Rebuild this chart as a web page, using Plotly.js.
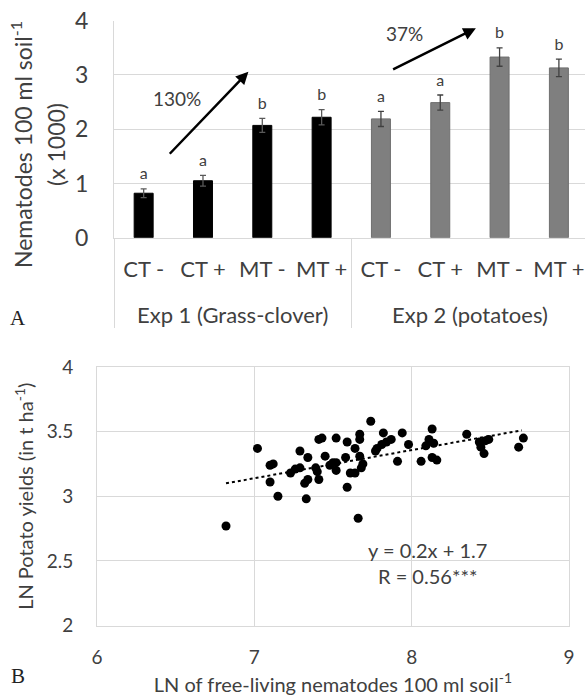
<!DOCTYPE html>
<html>
<head>
<meta charset="utf-8">
<script src="https://cdn.plot.ly/plotly-3.0.1.min.js"></script>
<style>html,body{margin:0;padding:0;background:#fff;}#chart{width:585px;height:699px;}</style>
</head>
<body>
<div id="chart"></div>
<script>
// ---------- Panel A data ----------
const treatments = ['CT -', 'CT +', 'MT -', 'MT +'];
const exp1Name = 'Exp 1 (Grass-clover)';
const exp2Name = 'Exp 2 (potatoes)';
const exp1Means = [0.82, 1.05, 2.07, 2.22];
const exp1Errors = [0.08, 0.10, 0.13, 0.14];
const exp1Letters = ['a', 'a', 'b', 'b'];
const exp2Means = [2.19, 2.49, 3.33, 3.13];
const exp2Errors = [0.14, 0.14, 0.17, 0.16];
const exp2Letters = ['a', 'a', 'b', 'b'];
const increaseLabels = ['130%', '37%'];

// ---------- Panel B data ----------
const lnNematodes = [6.82, 7.02, 7.10, 7.12, 7.10, 7.15, 7.29, 7.34, 7.23, 7.26,
  7.29, 7.32, 7.34, 7.33, 7.39, 7.40, 7.41, 7.41, 7.43, 7.45,
  7.48, 7.52, 7.52, 7.52, 7.59, 7.64, 7.67, 7.67, 7.74, 7.82,
  7.87, 7.84, 7.81, 7.78, 7.77, 7.94, 7.98, 7.91, 8.06, 8.09,
  8.11, 8.13, 8.13, 8.16, 7.58, 7.61, 7.64, 7.67, 7.69, 7.68,
  7.59, 7.66, 8.35, 8.43, 8.47, 8.49, 8.44, 8.46, 8.71, 8.68,
  8.14, 7.50];
const lnYield = [2.77, 3.37, 3.24, 3.25, 3.11, 3.00, 3.35, 3.30, 3.18, 3.21,
  3.22, 3.10, 3.13, 2.98, 3.22, 3.19, 3.13, 3.44, 3.45, 3.31,
  3.24, 3.26, 3.20, 3.45, 3.42, 3.37, 3.48, 3.44, 3.58, 3.49,
  3.44, 3.42, 3.40, 3.37, 3.35, 3.49, 3.40, 3.27, 3.27, 3.39,
  3.44, 3.52, 3.30, 3.28, 3.30, 3.18, 3.18, 3.31, 3.25, 3.22,
  3.07, 2.83, 3.48, 3.42, 3.43, 3.44, 3.38, 3.33, 3.45, 3.38,
  3.41, 3.26];
const trendX = [6.82, 8.70];
const trendY = [3.10, 3.51];
const equationText = 'y = 0.2x + 1.7';
const correlationText = 'R = 0.56***';

// ---------- build ----------
// group labels sit one line lower than the treatment labels (as in the original)
const grp1 = treatments.map(() => '<br>' + exp1Name);
const grp2 = treatments.map(() => '<br>' + exp2Name);
const txt = '#404040';
const grid = '#d9d9d9';
const W = 585, H = 699;
const px = v => v / W;
const py = v => 1 - v / H;
const letterGap = 0.1; // visual gap above the error bar, in axis units

const traces = [
  {
    type: 'bar', x: [grp1, treatments], y: exp1Means, width: 0.32,
    marker: {color: '#000000', line: {color: '#000000', width: 1}},
    error_y: {type: 'data', array: exp1Errors, color: '#595959', thickness: 1.3, width: 3},
    xaxis: 'x', yaxis: 'y', showlegend: false, hoverinfo: 'skip'
  },
  {
    type: 'bar', x: [grp2, treatments], y: exp2Means, width: 0.32,
    marker: {color: '#7f7f7f', line: {color: '#6f6f6f', width: 1}},
    error_y: {type: 'data', array: exp2Errors, color: '#404040', thickness: 1.3, width: 3},
    xaxis: 'x', yaxis: 'y', showlegend: false, hoverinfo: 'skip'
  },
  {
    type: 'scatter', mode: 'text',
    x: [grp1.concat(grp2), treatments.concat(treatments)],
    y: exp1Means.map((m, i) => m + exp1Errors[i] + letterGap)
        .concat(exp2Means.map((m, i) => m + exp2Errors[i] + letterGap)),
    text: exp1Letters.concat(exp2Letters), textposition: 'top center',
    textfont: {family: 'Lato, sans-serif', size: 16, color: txt},
    xaxis: 'x', yaxis: 'y', showlegend: false, hoverinfo: 'skip'
  },
  {
    type: 'scatter', mode: 'markers', x: lnNematodes, y: lnYield,
    marker: {color: '#000000', size: 9},
    xaxis: 'x2', yaxis: 'y2', showlegend: false, hoverinfo: 'skip'
  },
  {
    type: 'scatter', mode: 'lines', x: trendX, y: trendY,
    line: {color: '#000000', width: 2, dash: 'dot'},
    xaxis: 'x2', yaxis: 'y2', showlegend: false, hoverinfo: 'skip'
  }
];

const layout = {
  width: W, height: H,
  margin: {l: 0, r: 0, t: 0, b: 0},
  paper_bgcolor: '#ffffff', plot_bgcolor: '#ffffff',
  barmode: 'overlay',
  font: {family: 'Lato, sans-serif', color: txt},
  xaxis: {
    domain: [px(114), 1], range: [-0.5, 7.44], type: 'multicategory',
    showgrid: false, showline: true, linecolor: grid, linewidth: 1,
    ticks: '', ticklabelstandoff: 12, tickangle: 0,
    showdividers: true, dividercolor: grid, dividerwidth: 1,
    tickfont: {family: 'Lato, sans-serif', size: 22, color: txt},
    fixedrange: true, automargin: false
  },
  yaxis: {
    domain: [py(237.7), py(20.7)], range: [0, 4], dtick: 1,
    showgrid: true, gridcolor: grid, gridwidth: 1, zeroline: false,
    showline: true, linecolor: grid, linewidth: 1,
    ticks: 'outside', ticklen: 20, tickcolor: 'rgba(0,0,0,0)',
    tickfont: {family: 'Lato, sans-serif', size: 23, color: txt},
    fixedrange: true, automargin: false
  },
  xaxis2: {
    domain: [px(97), px(569)], range: [6, 9], dtick: 1, anchor: 'y2',
    showgrid: true, gridcolor: grid, zeroline: false,
    showline: true, mirror: true, linecolor: grid, linewidth: 1,
    ticks: 'outside', ticklen: 15, tickcolor: 'rgba(0,0,0,0)',
    tickfont: {family: 'Lato, sans-serif', size: 19, color: txt},
    title: {text: 'LN of free-living nematodes 100 ml soil<sup>-1</sup>', standoff: 10,
            font: {family: 'Lato, sans-serif', size: 20, color: txt}},
    fixedrange: true, automargin: false
  },
  yaxis2: {
    domain: [py(625.5), py(367)], range: [2, 4], dtick: 0.5, anchor: 'x2',
    showgrid: true, gridcolor: grid, zeroline: false,
    showline: true, mirror: true, linecolor: grid, linewidth: 1,
    ticks: 'outside', ticklen: 19, tickcolor: 'rgba(0,0,0,0)',
    tickfont: {family: 'Lato, sans-serif', size: 19, color: txt},
    title: {text: 'LN Potato yields (in t ha<sup>-1</sup>)', standoff: 7,
            font: {family: 'Lato, sans-serif', size: 20, color: txt}},
    fixedrange: true, automargin: false
  },
  annotations: [
    {xref: 'paper', yref: 'paper', x: px(21), y: py(145), xanchor: 'center', yanchor: 'middle',
     textangle: -90, showarrow: false,
     text: 'Nematodes 100 ml soil<sup>-1</sup>', font: {size: 23, color: txt}},
    {xref: 'paper', yref: 'paper', x: px(56), y: py(145), xanchor: 'center', yanchor: 'middle',
     textangle: -90, showarrow: false,
     text: '(x 1000)', font: {size: 23, color: txt}},
    {xref: 'x', yref: 'y', x: 1.765, y: 3.06, ax: 0.416, ay: 1.52, axref: 'x', ayref: 'y',
     showarrow: true, arrowhead: 2, arrowsize: 1, arrowwidth: 2.5, arrowcolor: '#000', text: ''},
    {xref: 'x', yref: 'y', x: 5.60, y: 3.86, ax: 4.18, ay: 3.09, axref: 'x', ayref: 'y',
     showarrow: true, arrowhead: 2, arrowsize: 1, arrowwidth: 2.5, arrowcolor: '#000', text: ''},
    {xref: 'x', yref: 'y', x: 0.557, y: 2.57, showarrow: false, text: increaseLabels[0],
     font: {size: 19, color: txt}},
    {xref: 'x', yref: 'y', x: 4.39, y: 3.77, showarrow: false, text: increaseLabels[1],
     font: {size: 19, color: txt}},
    {xref: 'x2', yref: 'y2', x: 8.10, y: 2.585, showarrow: false, text: equationText,
     font: {size: 20, color: txt}},
    {xref: 'x2', yref: 'y2', x: 8.10, y: 2.38, showarrow: false, text: correlationText,
     font: {size: 20, color: txt}},
    {xref: 'paper', yref: 'paper', x: px(18), y: py(318), xanchor: 'center', yanchor: 'middle',
     showarrow: false, text: 'A',
     font: {family: 'Liberation Serif, serif', size: 21, color: '#222'}},
    {xref: 'paper', yref: 'paper', x: px(18), y: py(676), xanchor: 'center', yanchor: 'middle',
     showarrow: false, text: 'B',
     font: {family: 'Liberation Serif, serif', size: 21, color: '#222'}}
  ]
};

Plotly.newPlot('chart', traces, layout, {displayModeBar: false, staticPlot: true});
</script>
</body>
</html>
